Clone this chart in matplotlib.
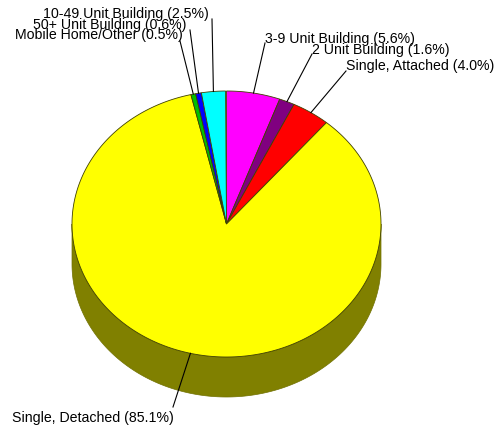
import numpy as np
import matplotlib
matplotlib.use("Agg")
import matplotlib.pyplot as plt
from matplotlib.patches import Polygon

labels = ["3-9 Unit Building", "2 Unit Building", "Single, Attached", "Single, Detached",
          "Mobile Home/Other", "50+ Unit Building", "10-49 Unit Building"]
values = [5.6, 1.6, 4.0, 85.1, 0.5, 0.6, 2.5]
colors = ["#ff00ff", "#800080", "#ff0000", "#ffff00", "#00c000", "#0000ff", "#00ffff"]
side_colors = ["#800080", "#400040", "#800000", "#808000", "#006000", "#000080", "#008080"]

# label anchor positions (pixels, baseline) — layout only
label_pos = [(265, 43), (312, 54), (346, 70), (12, 422), (15, 39), (33, 29), (43, 18)]
line_start = [(265, 43), (312, 54), (346, 71), (173, 407), (180, 41), (190, 30), (212, 19)]

W, H = 498, 430
fig = plt.figure(figsize=(W / 100, H / 100), dpi=100)
ax = fig.add_axes([0, 0, 1, 1])
ax.set_xlim(0, W)
ax.set_ylim(H, 0)
ax.axis("off")

cx, cy, rx, ry, depth = 226.5, 224.0, 154.5, 133.0, 40.0
total = 100.0


def pt(theta_deg, dy=0.0):
    t = np.radians(theta_deg)
    return cx + rx * np.sin(t), cy - ry * np.cos(t) + dy


starts = []
acc = 0.0
for v in values:
    starts.append(acc / total * 360)
    acc += v
ends = [s + v / total * 360 for s, v in zip(starts, values)]

# side (front half visible: theta 90..270)
for s, e, sc in zip(starts, ends, side_colors):
    a0, a1 = max(s, 90), min(e, 270)
    if a1 <= a0:
        continue
    th = np.linspace(a0, a1, 200)
    top = [pt(t) for t in th]
    bot = [pt(t, depth) for t in th[::-1]]
    ax.add_patch(Polygon(top + bot, closed=True, facecolor=sc, edgecolor="#707000",
                         linewidth=0.5, zorder=1))

# top face
for s, e, c in zip(starts, ends, colors):
    th = np.linspace(s, e, max(int((e - s) * 2), 3))
    poly = [(cx, cy)] + [pt(t) for t in th]
    ax.add_patch(Polygon(poly, closed=True, facecolor=c, edgecolor="#404000",
                         linewidth=0.6, zorder=2))

# labels and leader lines
for lab, v, s, e, lp, ls in zip(labels, values, starts, ends, label_pos, line_start):
    mx, my = pt((s + e) / 2)
    ax.plot([ls[0], mx], [ls[1], my], color="black", linewidth=0.8, zorder=3)
    ax.text(lp[0], lp[1], f"{lab} ({v:.1f}%)", ha="left", va="baseline",
            fontsize=10.2, family="Liberation Sans", color="black", zorder=4)

fig.savefig("out.png", dpi=100)
